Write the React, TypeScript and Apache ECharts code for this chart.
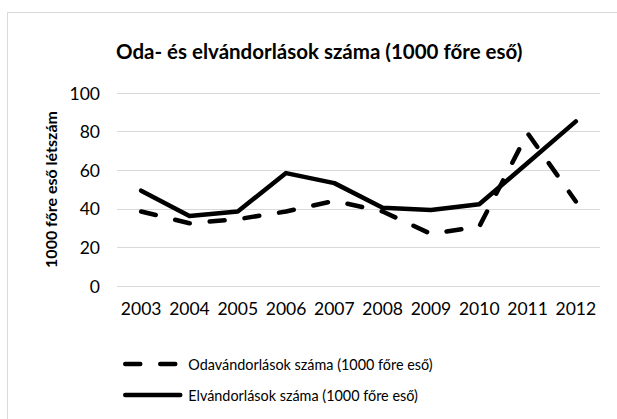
import React, { useEffect, useRef } from "react";
import * as echarts from "echarts";

const years = ["2003", "2004", "2005", "2006", "2007", "2008", "2009", "2010", "2011", "2012"];
const odavandorlas = [38.6, 32.5, 34.6, 38.6, 44.1, 38.6, 27, 30.8, 79.2, 43.8];
const elvandorlas = [49.4, 36.3, 38.6, 58.5, 53.3, 40.6, 39.4, 42.4, 63.7, 85.3];
const yTicks = { min: 0, max: 100, interval: 20 };

const FONT = "Lato, 'Open Sans', sans-serif";

export default function App() {
  const ref = useRef<HTMLDivElement>(null);
  useEffect(() => {
    if (!ref.current) return;
    const chart = echarts.init(ref.current, undefined, { renderer: "svg" });
    chart.setOption({
      animation: false,
      backgroundColor: "#ffffff",
      textStyle: { fontFamily: FONT },
      title: {
        text: "Oda- és elvándorlások száma (1000 főre eső)",
        left: 111,
        top: 35,
        textStyle: { fontFamily: FONT, fontSize: 20.5, fontWeight: "bold", color: "#000" },
      },
      graphic: [
        {
          type: "rect",
          shape: { x: 7.5, y: 12.5, width: 700, height: 500 },
          style: { fill: "none", stroke: "#d9d9d9", lineWidth: 1 },
          silent: true,
        },
      ],
      grid: { left: 117, right: 17, top: 93, bottom: 133, containLabel: false },
      legend: {
        orient: "vertical",
        left: 118,
        top: 352,
        itemWidth: 55,
        itemHeight: 14,
        itemGap: 17,
        itemStyle: { opacity: 0 },
        lineStyle: { width: 4.5, cap: "round" },
        textStyle: { fontFamily: FONT, fontSize: 14.4, color: "#000", padding: [0, 0, 0, 3] },
        data: ["Odavándorlások száma (1000 főre eső)", "Elvándorlások száma (1000 főre eső)"],
      },
      xAxis: {
        type: "category",
        data: years,
        boundaryGap: true,
        axisLine: { show: false },
        axisTick: { show: false },
        axisLabel: { interval: 0, fontFamily: FONT, fontSize: 17.5, color: "#000", margin: 13 },
      },
      yAxis: {
        type: "value",
        min: yTicks.min,
        max: yTicks.max,
        interval: yTicks.interval,
        name: "1000 főre eső létszám",
        nameLocation: "middle",
        nameGap: 56,
        nameRotate: 90,
        nameTextStyle: { fontFamily: FONT, fontSize: 16, fontWeight: "bold", color: "#000" },
        axisLine: { show: false },
        axisTick: { show: false },
        axisLabel: { fontFamily: FONT, fontSize: 17.5, color: "#000", margin: 17 },
        splitLine: { lineStyle: { color: "#d9d9d9", width: 1 } },
      },
      series: [
        {
          name: "Odavándorlások száma (1000 főre eső)",
          type: "line",
          data: odavandorlas,
          showSymbol: false,
          symbol: "none",
          itemStyle: { color: "#000" },
          lineStyle: { color: "#000", width: 4.5, type: [15, 20], cap: "round", join: "round" },
        },
        {
          name: "Elvándorlások száma (1000 főre eső)",
          type: "line",
          data: elvandorlas,
          showSymbol: false,
          symbol: "none",
          itemStyle: { color: "#000" },
          lineStyle: { color: "#000", width: 4.5, type: "solid", cap: "round", join: "round" },
        },
      ],
    });
    return () => chart.dispose();
  }, []);
  return (
    <div
      ref={ref}
      style={{ position: "fixed", left: 0, top: 0, width: 617, height: 419, background: "#fff" }}
    />
  );
}
